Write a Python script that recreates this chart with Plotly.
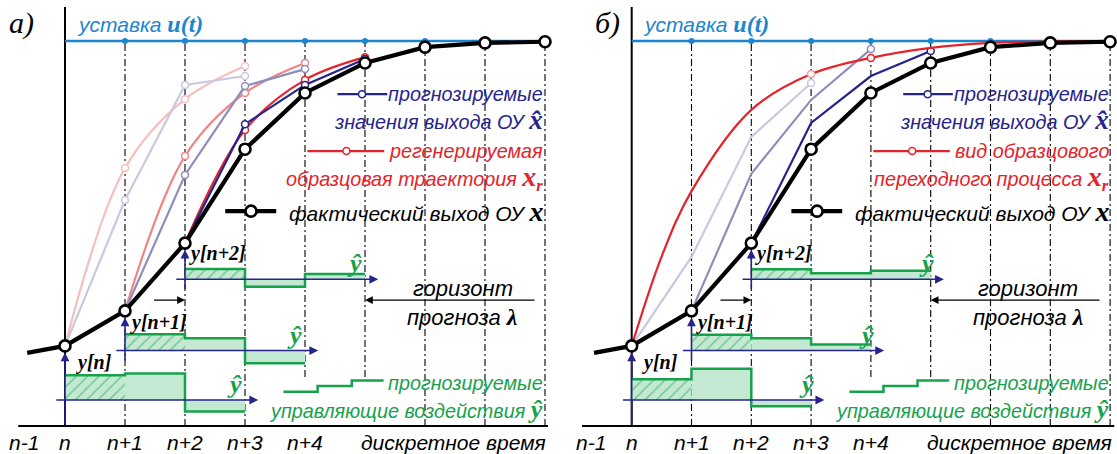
import plotly.graph_objects as go

# ---------------- data ----------------
grid_t = [1, 2, 3, 4, 5, 6, 7, 8]
tick_pos = [-0.68, 0, 1, 2, 3, 4]
tick_labels = ["n-1", "n", "n+1", "n+2", "n+3", "n+4"]
time_label = "дискретное время"

actual_t = [-0.63, 0, 1, 2, 3, 4, 5, 6, 7, 8]
actual_x = [0.190, 0.208, 0.299, 0.475, 0.719, 0.865, 0.943, 0.984, 0.995, 0.998]
setpoint_t = [0, 1, 2, 3, 4, 5, 6, 7, 8]
setpoint_u = [1.0, 1.0, 1.0, 1.0, 1.0, 1.0, 1.0, 1.0, 1.0]

# panel a) predicted outputs x^ and regenerated references x_r, started at n, n+1, n+2
a_xhat_n = [0.208, 0.587, 0.886, 0.909]
a_xhat_n1 = [0.299, 0.652, 0.883, 0.927]
a_xhat_n2 = [0.475, 0.784, 0.886, 0.953]
a_xr_n = [0.208, 0.670, 0.849, 0.935]
a_xr_n1 = [0.299, 0.701, 0.865, 0.943]
a_xr_n2 = [0.475, 0.769, 0.899, 0.958]

# panel б) predicted outputs and one reference transient
b_xhat_n = [0.208, 0.439, 0.751, 0.891]
b_xhat_n1 = [0.299, 0.655, 0.847, 0.979]
b_xhat_n2 = [0.475, 0.787, 0.909, 0.974]
b_xr_t = [0, 0.5, 1, 2, 3, 4, 5, 6, 7, 8]
b_xr = [0.208, 0.440, 0.610, 0.821, 0.914, 0.956, 0.982, 0.995, 0.999, 1.0]

# predicted control moves y^ (relative to each small diagram's baseline)
a_u_n = [0.064, 0.069, -0.030]
a_u_n1 = [0.042, 0.032, -0.033]
a_u_n2 = [0.027, -0.019, 0.014]
b_u_n = [0.054, 0.081, -0.016]
b_u_n1 = [0.041, 0.032, 0.016]
b_u_n2 = [0.026, 0.016, 0.022]

# ---------------- style ----------------
NAVY = "#25238c"
RED = "#e4232a"
GREEN = "#16a24b"
GREEN_FILL = "#c4e9d2"
SKY = "#1b86cf"
BLUE_SHADES = ["#c9c8e0", "#8e8dbb", NAVY]
RED_SHADES = ["#f7bebe", "#ee8585", RED]
SANS = "Liberation Sans"
SERIF = "Liberation Serif"
FS = 19.8
FS_AX = 21

bases = [0.0675, 0.196, 0.381]
vstarts = [0.0, 0.166, 0.351]

fig = go.Figure()
ann = []


def ax_ids(p):
    return ("x", "y") if p == 0 else ("x2", "y2")


def line(p, xs, ys, color, width, shape="linear", dash=None,
         msize=7, mcolor="white", mlw=1.5, markers_idx=None):
    xa, ya = ax_ids(p)
    fig.add_trace(go.Scatter(x=xs, y=ys, mode="lines", xaxis=xa, yaxis=ya,
                             line=dict(color=color, width=width, shape=shape, dash=dash),
                             hoverinfo="skip", showlegend=False))
    if markers_idx is not None:
        fig.add_trace(go.Scatter(x=[xs[i] for i in markers_idx], y=[ys[i] for i in markers_idx],
                                 mode="markers", xaxis=xa, yaxis=ya,
                                 marker=dict(size=msize, color=mcolor, line=dict(color=color, width=mlw)),
                                 hoverinfo="skip", showlegend=False))


def dot(p, x, y, color, size=7, lw=1.5):
    xa, ya = ax_ids(p)
    fig.add_trace(go.Scatter(x=[x], y=[y], mode="markers", xaxis=xa, yaxis=ya,
                             marker=dict(size=size, color="white", line=dict(color=color, width=lw)),
                             hoverinfo="skip", showlegend=False))


def txt(p, x, y, text, size=FS, color="black", family=SANS, xanchor="center", yanchor="middle"):
    xa, ya = ax_ids(p)
    ann.append(dict(x=x, y=y, xref=xa, yref=ya, text=text, showarrow=False,
                    font=dict(size=size, color=color, family=family),
                    xanchor=xanchor, yanchor=yanchor))


def arrow(p, x0, y0, x1, y1, color, width=1.3, size=1.1):
    xa, ya = ax_ids(p)
    ann.append(dict(x=x1, y=y1, ax=x0, ay=y0, xref=xa, yref=ya, axref=xa, ayref=ya,
                    text="", showarrow=True, arrowhead=2, arrowsize=size,
                    arrowwidth=width, arrowcolor=color, standoff=0, startstandoff=0))


def serif_span(s, size, color):
    return ('<span style="font-family:%s;font-size:%dpx;color:%s"><b><i>%s</i></b></span>'
            % (SERIF, size, color, s))


def panel(p, xhat_list, xr_list, xr_t, xr_b, u_list, label, red_texts, leg_right, t_axis):
    xa, ya = ax_ids(p)
    # dash-dot grid lines
    for t in grid_t:
        low = 0.127 if t in (4, 5) else 0.0
        line(p, [t, t], [low, 1.0], "black", 1.1, dash="7px,3px,2px,3px")
    # axes
    line(p, [0, 0], [0.0, 1.088], "black", 2)
    line(p, [t_axis[0], t_axis[1]], [0, 0], "black", 2)
    # setpoint
    line(p, setpoint_t, setpoint_u, SKY, 2.5)
    fig.add_trace(go.Scatter(x=setpoint_t[1:8], y=setpoint_u[1:8], mode="markers", xaxis=xa, yaxis=ya,
                             marker=dict(size=6, color=SKY), hoverinfo="skip", showlegend=False))

    # control-move diagrams
    for k, (base, u, vs) in enumerate(zip(bases, u_list, vstarts)):
        for i in range(3):
            x0, x1 = k + i, k + i + 1
            yv = base + u[i]
            kw = dict(fill="toself", fillcolor=GREEN_FILL)
            if i == 0:
                kw["fillpattern"] = dict(shape="/", fgcolor=GREEN, bgcolor=GREEN_FILL, size=8, solidity=0.18)
            fig.add_trace(go.Scatter(x=[x0, x1, x1, x0, x0], y=[base, base, yv, yv, base], mode="lines",
                                     xaxis=xa, yaxis=ya, line=dict(width=0), hoverinfo="skip",
                                     showlegend=False, **kw))
        sx = [k, k + 1, k + 1, k + 2, k + 2, k + 3]
        sy = [base + u[0], base + u[0], base + u[1], base + u[1], base + u[2], base + u[2]]
        line(p, sx, sy, GREEN, 2.5)
        arrow(p, k - 0.17, base, k + 3.22, base, NAVY, 1.6)
        arrow(p, k, vs, k, actual_x[k + 1] - 0.017, NAVY, 1.6)
        hat_x = k + 2.83 if p == 0 else k + 2.93
        txt(p, hat_x, base + 0.04, "<b><i>ŷ</i></b>", size=26, color=GREEN, family=SERIF)
        lbl = ["y[n]", "y[n+1]", "y[n+2]"][k]
        lx = [0.48, 1.56, 2.54][k]
        ly = [0.164, 0.270, 0.449][k]
        txt(p, lx, ly, "<b><i>%s</i></b>" % lbl, size=20, family=SERIF)

    # predictions: faded older ones first
    for j in range(3):
        ts = [j, j + 1, j + 2, j + 3]
        if xr_list is not None:
            line(p, ts, xr_list[j], RED_SHADES[j], 2.2, shape="spline", markers_idx=[1, 2, 3])
        if p == 0:
            line(p, ts, xhat_list[j], BLUE_SHADES[j], 2.2, markers_idx=[1, 2, 3])
        else:
            line(p, ts, xhat_list[j], BLUE_SHADES[j], 2.2, markers_idx=[3])
    if xr_t is not None:
        line(p, xr_t, xr_b, RED, 2.2, shape="spline")
        dot(p, xr_t[4], xr_b[4], "#f19a9a")
        dot(p, xr_t[5], xr_b[5], RED)

    # actual output
    line(p, actual_t, actual_x, "black", 4.2, markers_idx=list(range(1, 10)), msize=11, mlw=2.6)

    # labels
    txt(p, -0.72 if p == 0 else -0.41, 1.047, "<i>%s</i>" % label, size=30, family=SERIF)
    txt(p, 0.16, 1.044, "<i>уставка </i>" + serif_span("u(t)", 24, SKY), size=21, color=SKY, xanchor="left")
    for tp, tl in zip(tick_pos, tick_labels):
        txt(p, tp, -0.044, "<i>%s</i>" % tl, size=FS_AX)
    txt(p, leg_right, -0.044, "<i>%s</i>" % time_label, size=FS_AX, xanchor="right")

    # legend for x^, x_r, x
    lr = leg_right - 0.05
    line(p, [4.54, 5.37], [0.862, 0.862], NAVY, 2.2)
    dot(p, 4.95, 0.862, NAVY)
    txt(p, lr, 0.862, "<i>прогнозируемые</i>", color=NAVY, xanchor="right")
    txt(p, lr, 0.795, "<i>значения выхода ОУ </i>" + serif_span("x̂", 27, NAVY), color=NAVY, xanchor="right")
    line(p, [4.04, 5.32], [0.714, 0.714], RED, 2.2)
    dot(p, 4.69, 0.714, RED)
    txt(p, lr, 0.714, "<i>%s</i>" % red_texts[0], color=RED, xanchor="right")
    txt(p, lr, 0.644, "<i>%s </i>" % red_texts[1] + serif_span("x", 28, RED) + serif_span("<sub>r</sub>", 24, RED),
        color=RED, xanchor="right")
    line(p, [2.67, 3.52], [0.558, 0.558], "black", 4.2)
    dot(p, 3.1, 0.558, "black", 11, 2.6)
    txt(p, lr, 0.558, "<i>фактический выход ОУ </i>" + serif_span("x", 28, "black"), size=21, xanchor="right")

    # horizon
    arrow(p, 1.46, 0.327, 2.0, 0.327, "black", 1.2, 1.3)
    arrow(p, 7.85, 0.327, 5.0, 0.327, "black", 1.2, 1.3)
    txt(p, 6.63, 0.356, "<i>горизонт</i>", size=22)
    txt(p, 6.63, 0.283, "<i>прогноза </i>" + serif_span("λ", 24, "black"), size=22)

    # legend for y^
    gx = [3.64, 4.21, 4.21, 4.78, 4.78, 5.31]
    gy = [0.089, 0.089, 0.104, 0.104, 0.118, 0.118]
    line(p, gx, gy, GREEN, 2.5)
    txt(p, lr, 0.112, "<i>прогнозируемые</i>", color=GREEN, xanchor="right")
    txt(p, lr, 0.042, "<i>управляющие воздействия </i>" + serif_span("ŷ", 26, GREEN), color=GREEN,
        xanchor="right")


panel(0, [a_xhat_n, a_xhat_n1, a_xhat_n2], [a_xr_n, a_xr_n1, a_xr_n2], None, None,
      [a_u_n, a_u_n1, a_u_n2], "а)", ["регенерируемая", "образцовая траектория"], 8.05, (-0.78, 8.05))
panel(1, [b_xhat_n, b_xhat_n1, b_xhat_n2], None, b_xr_t, b_xr,
      [b_u_n, b_u_n1, b_u_n2], "б)", ["вид образцового", "переходного процесса"], 8.06, (-0.83, 8.07))

W, H = 1117, 454
yr = [-28 / 385, 426 / 385]
fig.update_layout(
    width=W, height=H, margin=dict(l=0, r=0, t=0, b=0),
    paper_bgcolor="white", plot_bgcolor="white", showlegend=False,
    xaxis=dict(domain=[0, 0.5], range=[-65 / 60, (558.5 - 65) / 60], visible=False, anchor="y"),
    yaxis=dict(domain=[0, 1], range=yr, visible=False, anchor="x"),
    xaxis2=dict(domain=[0.5, 1], range=[(558.5 - 631.7) / 59.8, (1117 - 631.7) / 59.8], visible=False,
                anchor="y2"),
    yaxis2=dict(domain=[0, 1], range=yr, visible=False, anchor="x2"),
    annotations=ann,
)
fig.write_html("out.html", config={"displayModeBar": False},
               post_script="document.body.style.margin='0';")
